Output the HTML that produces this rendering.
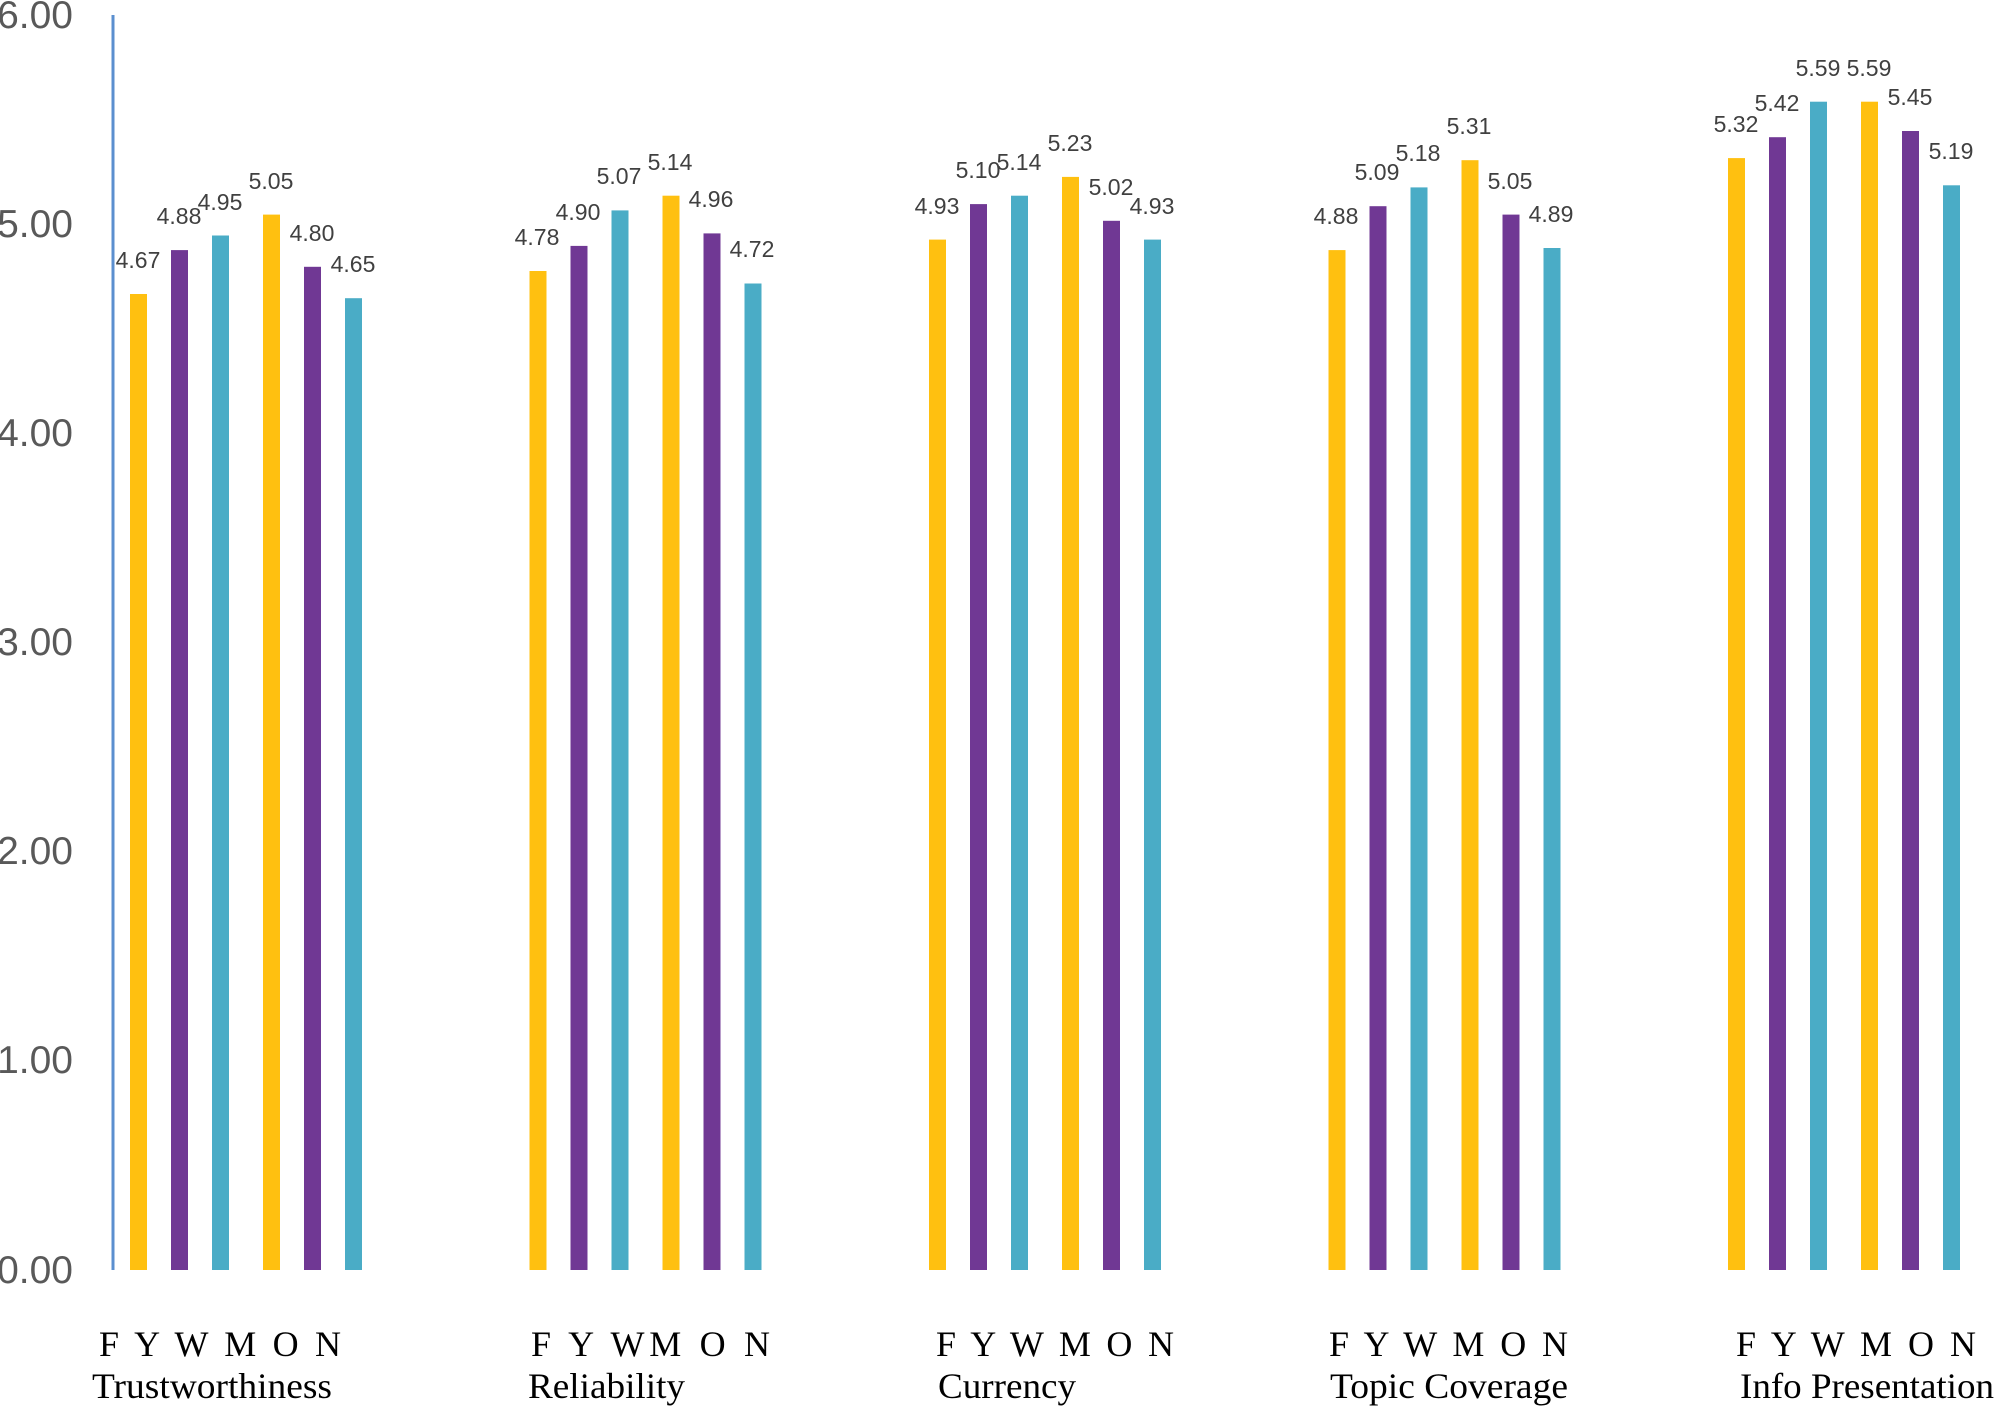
<!DOCTYPE html>
<html><head><meta charset="utf-8"><style>html,body{margin:0;padding:0;background:#fff}</style></head>
<body>
<svg width="1996" height="1407" viewBox="0 0 1996 1407" xmlns="http://www.w3.org/2000/svg">
<rect width="1996" height="1407" fill="#fff"/>
<g font-family="Liberation Sans, sans-serif" font-size="39" fill="#595959" text-anchor="end">
<text x="73" y="28">6.00</text>
<text x="73" y="237">5.00</text>
<text x="73" y="446">4.00</text>
<text x="73" y="655">3.00</text>
<text x="73" y="864">2.00</text>
<text x="73" y="1073">1.00</text>
<text x="73" y="1283">0.00</text>
</g>
<line x1="113" y1="15" x2="113" y2="1270" stroke="#5b8fcf" stroke-width="3"/>
<g>
<rect x="130" y="294.0" width="17" height="976.0" fill="#ffc010"/>
<rect x="171" y="250.1" width="17" height="1019.9" fill="#703894"/>
<rect x="212" y="235.5" width="17" height="1034.5" fill="#4aacc6"/>
<rect x="263" y="214.6" width="17" height="1055.4" fill="#ffc010"/>
<rect x="304" y="266.8" width="17" height="1003.2" fill="#703894"/>
<rect x="345" y="298.2" width="17" height="971.8" fill="#4aacc6"/>

<rect x="529.5" y="271.0" width="17" height="999.0" fill="#ffc010"/>
<rect x="570.5" y="245.9" width="17" height="1024.1" fill="#703894"/>
<rect x="611.5" y="210.4" width="17" height="1059.6" fill="#4aacc6"/>
<rect x="662.5" y="195.7" width="17" height="1074.3" fill="#ffc010"/>
<rect x="703.5" y="233.4" width="17" height="1036.6" fill="#703894"/>
<rect x="744.5" y="283.5" width="17" height="986.5" fill="#4aacc6"/>

<rect x="929" y="239.6" width="17" height="1030.4" fill="#ffc010"/>
<rect x="970" y="204.1" width="17" height="1065.9" fill="#703894"/>
<rect x="1011" y="195.7" width="17" height="1074.3" fill="#4aacc6"/>
<rect x="1062" y="176.9" width="17" height="1093.1" fill="#ffc010"/>
<rect x="1103" y="220.8" width="17" height="1049.2" fill="#703894"/>
<rect x="1144" y="239.6" width="17" height="1030.4" fill="#4aacc6"/>

<rect x="1328.5" y="250.1" width="17" height="1019.9" fill="#ffc010"/>
<rect x="1369.5" y="206.2" width="17" height="1063.8" fill="#703894"/>
<rect x="1410.5" y="187.4" width="17" height="1082.6" fill="#4aacc6"/>
<rect x="1461.5" y="160.2" width="17" height="1109.8" fill="#ffc010"/>
<rect x="1502.5" y="214.6" width="17" height="1055.4" fill="#703894"/>
<rect x="1543.5" y="248.0" width="17" height="1022.0" fill="#4aacc6"/>

<rect x="1728" y="158.1" width="17" height="1111.9" fill="#ffc010"/>
<rect x="1769" y="137.2" width="17" height="1132.8" fill="#703894"/>
<rect x="1810" y="101.7" width="17" height="1168.3" fill="#4aacc6"/>
<rect x="1861" y="101.7" width="17" height="1168.3" fill="#ffc010"/>
<rect x="1902" y="131.0" width="17" height="1139.0" fill="#703894"/>
<rect x="1943" y="185.3" width="17" height="1084.7" fill="#4aacc6"/>
</g>
<g font-family="Liberation Sans, sans-serif" font-size="23" fill="#404040" text-anchor="middle">
<text x="138" y="268">4.67</text>
<text x="179" y="224">4.88</text>
<text x="220" y="210">4.95</text>
<text x="271" y="189">5.05</text>
<text x="312" y="241">4.80</text>
<text x="353" y="272">4.65</text>

<text x="537" y="245">4.78</text>
<text x="578" y="220">4.90</text>
<text x="619" y="184">5.07</text>
<text x="670" y="170">5.14</text>
<text x="711" y="207">4.96</text>
<text x="752" y="257">4.72</text>

<text x="937" y="214">4.93</text>
<text x="978" y="178">5.10</text>
<text x="1019" y="170">5.14</text>
<text x="1070" y="151">5.23</text>
<text x="1111" y="195">5.02</text>
<text x="1152" y="214">4.93</text>

<text x="1336" y="224">4.88</text>
<text x="1377" y="180">5.09</text>
<text x="1418" y="161">5.18</text>
<text x="1469" y="134">5.31</text>
<text x="1510" y="189">5.05</text>
<text x="1551" y="222">4.89</text>

<text x="1736" y="132">5.32</text>
<text x="1777" y="111">5.42</text>
<text x="1818" y="76">5.59</text>
<text x="1869" y="76">5.59</text>
<text x="1910" y="105">5.45</text>
<text x="1951" y="159">5.19</text>
</g>
<g font-family="Liberation Serif, serif" font-size="36" fill="#000">
<text x="99" y="1356" textLength="242" lengthAdjust="spacing">F Y W M O N</text>
<text x="531" y="1356" textLength="239" lengthAdjust="spacing">F Y WM O N</text>
<text x="936" y="1356" textLength="238" lengthAdjust="spacing">F Y W M O N</text>
<text x="1329" y="1356" textLength="239" lengthAdjust="spacing">F Y W M O N</text>
<text x="1736" y="1356" textLength="240" lengthAdjust="spacing">F Y W M O N</text>
<text x="92" y="1398" textLength="240" lengthAdjust="spacingAndGlyphs">Trustworthiness</text>
<text x="528" y="1398" textLength="157" lengthAdjust="spacingAndGlyphs">Reliability</text>
<text x="938" y="1398" textLength="138" lengthAdjust="spacingAndGlyphs">Currency</text>
<text x="1330" y="1398" textLength="238" lengthAdjust="spacingAndGlyphs">Topic Coverage</text>
<text x="1740" y="1398" textLength="254" lengthAdjust="spacingAndGlyphs">Info Presentation</text>
</g>
</svg>
</body></html>
